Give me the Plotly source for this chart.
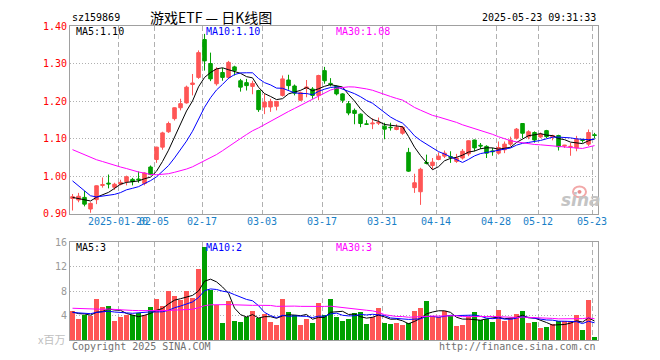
import plotly.graph_objects as go
import pandas as pd

# ---------------- data ----------------
dates = [
    "2025-01-08", "2025-01-09", "2025-01-10", "2025-01-13", "2025-01-14", "2025-01-15", "2025-01-16",
    "2025-01-17", "2025-01-20", "2025-01-21", "2025-01-22", "2025-01-23", "2025-01-24", "2025-01-27",
    "2025-02-05", "2025-02-06", "2025-02-07", "2025-02-10", "2025-02-11", "2025-02-12", "2025-02-13",
    "2025-02-14", "2025-02-17", "2025-02-18", "2025-02-19", "2025-02-20", "2025-02-21", "2025-02-24",
    "2025-02-25", "2025-02-26", "2025-02-27", "2025-02-28",
    "2025-03-03", "2025-03-04", "2025-03-05", "2025-03-06", "2025-03-07", "2025-03-10", "2025-03-11",
    "2025-03-12", "2025-03-13", "2025-03-14", "2025-03-17", "2025-03-18", "2025-03-19", "2025-03-20",
    "2025-03-21", "2025-03-24", "2025-03-25", "2025-03-26", "2025-03-27", "2025-03-28", "2025-03-31",
    "2025-04-01", "2025-04-02", "2025-04-03", "2025-04-07", "2025-04-08", "2025-04-09", "2025-04-10",
    "2025-04-11", "2025-04-14", "2025-04-15", "2025-04-16", "2025-04-17", "2025-04-18", "2025-04-21",
    "2025-04-22", "2025-04-23", "2025-04-24", "2025-04-25", "2025-04-28", "2025-04-29", "2025-04-30",
    "2025-05-06", "2025-05-07", "2025-05-08", "2025-05-09", "2025-05-12", "2025-05-13", "2025-05-14",
    "2025-05-15", "2025-05-16", "2025-05-19", "2025-05-20", "2025-05-21", "2025-05-22", "2025-05-23",
]

open_p = [
    0.940, 0.936, 0.943, 0.912, 0.937, 0.975, 0.981, 0.970, 0.978, 0.985, 0.991, 0.992, 0.980, 1.024,
    1.044, 1.077, 1.118, 1.153, 1.182, 1.195, 1.244, 1.263, 1.364, 1.300, 1.246, 1.276, 1.263, 1.291,
    1.254, 1.249, 1.239, 1.228,
    1.184, 1.184, 1.186, 1.215, 1.256, 1.240, 1.202, 1.234, 1.232, 1.215, 1.281, 1.247, 1.239, 1.219,
    1.193, 1.175, 1.165, 1.139, 1.139, 1.141, 1.133,
    1.130, 1.124, 1.114, 1.063, 0.969, 0.958, 1.036, 1.028, 1.044, 1.053, 1.052, 1.039, 1.048, 1.059,
    1.096, 1.082, 1.079, 1.067, 1.061, 1.070, 1.085,
    1.101, 1.140, 1.104, 1.116, 1.104, 1.121, 1.105, 1.108, 1.080, 1.078, 1.075, 1.097, 1.085, 1.110,
]
high_p = [
    0.952, 0.955, 0.960, 0.930, 0.975, 0.996, 1.004, 0.982, 0.990, 1.001, 0.995, 1.012, 1.010, 1.028,
    1.078, 1.118, 1.145, 1.183, 1.206, 1.241, 1.272, 1.335, 1.379, 1.329, 1.290, 1.288, 1.307, 1.294,
    1.259, 1.259, 1.254, 1.230,
    1.219, 1.206, 1.200, 1.268, 1.270, 1.244, 1.225, 1.256, 1.237, 1.270, 1.291, 1.261, 1.241, 1.221,
    1.200, 1.180, 1.167, 1.149, 1.154, 1.156, 1.142,
    1.142, 1.138, 1.133, 1.075, 1.006, 1.022, 1.057, 1.048, 1.063, 1.068, 1.066, 1.059, 1.072, 1.095,
    1.097, 1.088, 1.082, 1.075, 1.092, 1.092, 1.105,
    1.128, 1.141, 1.122, 1.119, 1.116, 1.123, 1.110, 1.110, 1.083, 1.088, 1.107, 1.099, 1.124, 1.115,
]
low_p = [
    0.908, 0.930, 0.919, 0.902, 0.925, 0.969, 0.967, 0.963, 0.975, 0.975, 0.975, 0.982, 0.975, 1.002,
    1.035, 1.070, 1.115, 1.148, 1.175, 1.193, 1.215, 1.259, 1.281, 1.253, 1.241, 1.254, 1.259, 1.268,
    1.225, 1.228, 1.218, 1.171,
    1.165, 1.171, 1.175, 1.212, 1.230, 1.215, 1.200, 1.210, 1.206, 1.202, 1.246, 1.239, 1.215, 1.195,
    1.162, 1.138, 1.130, 1.136, 1.125, 1.136, 1.098,
    1.121, 1.122, 1.110, 1.011, 0.955, 0.923, 1.031, 1.018, 1.042, 1.048, 1.035, 1.035, 1.044, 1.053,
    1.066, 1.072, 1.048, 1.054, 1.057, 1.061, 1.079,
    1.097, 1.101, 1.098, 1.089, 1.101, 1.101, 1.095, 1.068, 1.075, 1.054, 1.066, 1.089, 1.080, 1.101,
]
close_p = [
    0.945, 0.946, 0.925, 0.927, 0.974, 0.977, 0.979, 0.978, 0.983, 0.998, 0.985, 0.990, 1.008, 1.004,
    1.077, 1.115, 1.140, 1.182, 1.193, 1.237, 1.248, 1.329, 1.307, 1.259, 1.285, 1.263, 1.303, 1.281,
    1.237, 1.241, 1.247, 1.177,
    1.197, 1.199, 1.199, 1.259, 1.241, 1.221, 1.222, 1.237, 1.215, 1.268, 1.254, 1.244, 1.219, 1.202,
    1.168, 1.167, 1.140, 1.138, 1.141, 1.143, 1.125,
    1.129, 1.130, 1.130, 1.013, 0.982, 1.018, 1.034, 1.037, 1.053, 1.061, 1.050, 1.048, 1.066, 1.094,
    1.075, 1.080, 1.061, 1.065, 1.076, 1.085, 1.096,
    1.125, 1.114, 1.118, 1.096, 1.112, 1.105, 1.108, 1.078, 1.082, 1.079, 1.098, 1.095, 1.116, 1.108,
]
# volume, millions of shares
volume = [
    4.7, 3.4, 4.0, 3.9, 6.7, 5.3, 5.6, 3.0, 3.7, 4.1, 4.0, 4.3, 4.1, 5.3,
    6.6, 5.5, 8.0, 7.2, 6.5, 7.9, 6.9, 11.6, 15.2, 8.2, 5.7, 2.7, 6.4, 3.1,
    2.9, 3.7, 4.7, 3.6,
    4.2, 2.9, 2.4, 6.6, 4.5, 4.0, 2.4, 3.4, 2.7, 6.0, 4.0, 6.6, 3.8, 3.1,
    3.4, 4.3, 4.5, 2.6, 3.8, 5.2, 2.8,
    2.6, 2.7, 2.4, 2.8, 4.7, 5.2, 6.3, 3.9, 3.8, 4.7, 3.9, 2.3, 2.4, 3.8,
    4.5, 3.2, 3.4, 2.9, 4.8, 3.1, 3.5,
    4.2, 4.7, 2.7, 2.9, 1.9, 2.1, 2.6, 3.1, 3.0, 3.0, 4.0, 1.6, 6.5, 0.4,
]
# closes / volumes of the 29 sessions before the first candle, estimated from
# where the MA lines start at the left edge of the picture
prior_close = [
    1.15, 1.16, 1.14, 1.13, 1.12, 1.14, 1.13, 1.11, 1.12, 1.13, 1.12, 1.10, 1.11,
    1.10, 1.09, 1.08, 1.07, 1.09, 1.08, 1.07,
    1.08, 1.07, 1.045, 1.005, 0.955,
    0.961, 0.950, 0.935, 0.924,
]
prior_volume = [
    5.0, 6.2, 4.8, 5.5, 7.0, 4.6, 5.2, 6.0, 4.4, 5.8, 5.1, 4.9, 4.9,
    6.5, 5.2, 7.1, 5.8, 6.0, 5.4, 5.6,
    4.2, 5.1, 3.9, 4.6, 4.2,
    4.8, 4.3, 4.9, 4.3,
]

tick_dates = ["2025-01-20", "2025-02-05", "2025-02-17", "2025-03-03", "2025-03-17",
              "2025-03-31", "2025-04-14", "2025-04-28", "2025-05-12", "2025-05-23"]
tick_text = ["2025-01-20", "02-05", "02-17", "03-03", "03-17",
             "03-31", "04-14", "04-28", "05-12", "05-23"]
price_ticks = [0.90, 1.00, 1.10, 1.20, 1.30, 1.40]
vol_ticks = [4, 8, 12, 16]

code_text = "sz159869"
title_text = "游戏ETF — 日K线图"
time_text = "2025-05-23 09:31:33"
price_ma_labels = ["MA5:1.10", "MA10:1.10", "MA30:1.08"]
vol_ma_labels = ["MA5:3", "MA10:2", "MA30:3"]
unit_text = "x百万"
copyright_text = "Copyright 2025 SINA.COM"
url_text = "http://finance.sina.com.cn"

# ---------------- derived ----------------
n = len(dates)
x = list(range(n))
N_PRIOR = len(prior_close)
cs = pd.Series(prior_close + close_p)
vs = pd.Series(prior_volume + volume)
ma_p = {k: cs.rolling(k).mean().iloc[N_PRIOR:].tolist() for k in (5, 10, 30)}
ma_v = {k: vs.rolling(k).mean().iloc[N_PRIOR:].tolist() for k in (5, 10, 30)}

RED = "#ff5555"
GREEN = "#00a000"
MA_COL = {5: "#000000", 10: "#0000ff", 30: "#ff00ff"}
MONO = "DejaVu Sans Mono"
OFF = 0.42
tickvals = [dates.index(d) - OFF for d in tick_dates]
vol_colors = [RED if c >= o else GREEN for o, c in zip(open_p, close_p)]

# the page body has an 8px margin: figure origin sits at (8, 8) of the window
PAGE_OFF = 8
W, H = 660 - PAGE_OFF, 360 - PAGE_OFF
L, R, T, B = 70 - PAGE_OFF, 62, 21 - PAGE_OFF, 20
PW, PH = W - L - R, H - T - B


def px(xp):  # window pixel -> paper
    return (xp - PAGE_OFF - L) / PW


def py(yp):
    return (H - B - (yp - PAGE_OFF)) / PH


fig = go.Figure()
fig.add_trace(go.Candlestick(
    x=x, open=open_p, high=high_p, low=low_p, close=close_p,
    increasing=dict(line=dict(color=RED, width=1), fillcolor=RED),
    decreasing=dict(line=dict(color=GREEN, width=1), fillcolor=GREEN),
    whiskerwidth=0, xaxis="x", yaxis="y", showlegend=False, hoverinfo="skip",
))
for k in (5, 10, 30):
    fig.add_trace(go.Scatter(x=x, y=ma_p[k], mode="lines", line=dict(color=MA_COL[k], width=1),
                             xaxis="x", yaxis="y", showlegend=False, hoverinfo="skip"))
fig.add_trace(go.Bar(x=x, y=volume, marker=dict(color=vol_colors, line=dict(width=0)), width=0.8,
                     xaxis="x2", yaxis="y2", showlegend=False, hoverinfo="skip"))
for k in (5, 10, 30):
    fig.add_trace(go.Scatter(x=x, y=ma_v[k], mode="lines", line=dict(color=MA_COL[k], width=1),
                             xaxis="x2", yaxis="y2", showlegend=False, hoverinfo="skip"))

grid_common = dict(showgrid=True, gridcolor="#b0b0b0", gridwidth=1, zeroline=False,
                   showline=True, linecolor="#a0a0a0", linewidth=1, mirror=True, ticks="")
xcommon = dict(range=[-OFF, n - OFF], tickmode="array", tickvals=tickvals, ticktext=tick_text,
               tickangle=0, griddash="5px,3px", fixedrange=True, **grid_common)

fig.update_layout(
    width=W, height=H, margin=dict(l=L, r=R, t=T, b=B),
    paper_bgcolor="white", plot_bgcolor="white", hovermode=False, boxgap=0.15,
    bargap=0, showlegend=False,
    xaxis=dict(anchor="y", tickfont=dict(family=MONO, size=10, color="#1a7fc7"),
               ticklabelstandoff=-2, rangeslider=dict(visible=False), **xcommon),
    xaxis2=dict(anchor="y2", matches="x", showticklabels=False, **xcommon),
    yaxis=dict(domain=[py(211.5), 1.0], range=[0.90, 1.40], tickmode="array",
               tickvals=price_ticks, ticktext=["%.2f" % v for v in price_ticks],
               tickfont=dict(family=MONO, size=10, color="#ff0000"), griddash="1px,2px",
               fixedrange=True, **grid_common),
    yaxis2=dict(domain=[0, py(240.7)], range=[0, 16], tickmode="array",
                tickvals=vol_ticks, ticktext=[str(v) for v in vol_ticks],
                tickfont=dict(family=MONO, size=10, color="#999999"), griddash="1px,2px",
                fixedrange=True, **grid_common),
)

ann = []


def text(s, xp, yp, anchor="left", color="#000000", size=10, family=MONO, **kw):
    ann.append(dict(text=s, x=px(xp), y=py(yp), xref="paper", yref="paper", xanchor=anchor,
                    yanchor="middle", showarrow=False, font=dict(family=family, size=size, color=color, **kw)))


text(code_text, 70, 12)
text(title_text, 211, 12, anchor="center", size=14, family="Noto Sans CJK SC")
text(time_text, 598, 12, anchor="right")
for s, xp, k in zip(price_ma_labels, (74, 204, 334), (5, 10, 30)):
    text(s, xp, 27, color=MA_COL[k])
for s, xp, k in zip(vol_ma_labels, (74, 204, 334), (5, 10, 30)):
    text(s, xp, 246.5, color=MA_COL[k])
text(unit_text, 67, 339, anchor="right", color="#c0c0c0", family="Noto Sans CJK SC", size=11)
text(copyright_text, 70, 346.5, color="#707070")
text(url_text, 598, 346.5, anchor="right", color="#707070")
text("sina", 581, 198, anchor="center", color="#c4c4c4", size=17, family="DejaVu Sans",
     weight="bold", style="italic")
fig.update_layout(annotations=ann)

# sina eye mark
fig.add_shape(type="circle", xref="paper", yref="paper", x0=px(573), x1=px(586), y0=py(195), y1=py(184),
              line=dict(color="#f2a8a8", width=2))
fig.add_shape(type="circle", xref="paper", yref="paper", x0=px(577.5), x1=px(581.5), y0=py(191.5), y1=py(187.5),
              line=dict(width=0), fillcolor="#e88a8a")

fig.write_html("out.html")
